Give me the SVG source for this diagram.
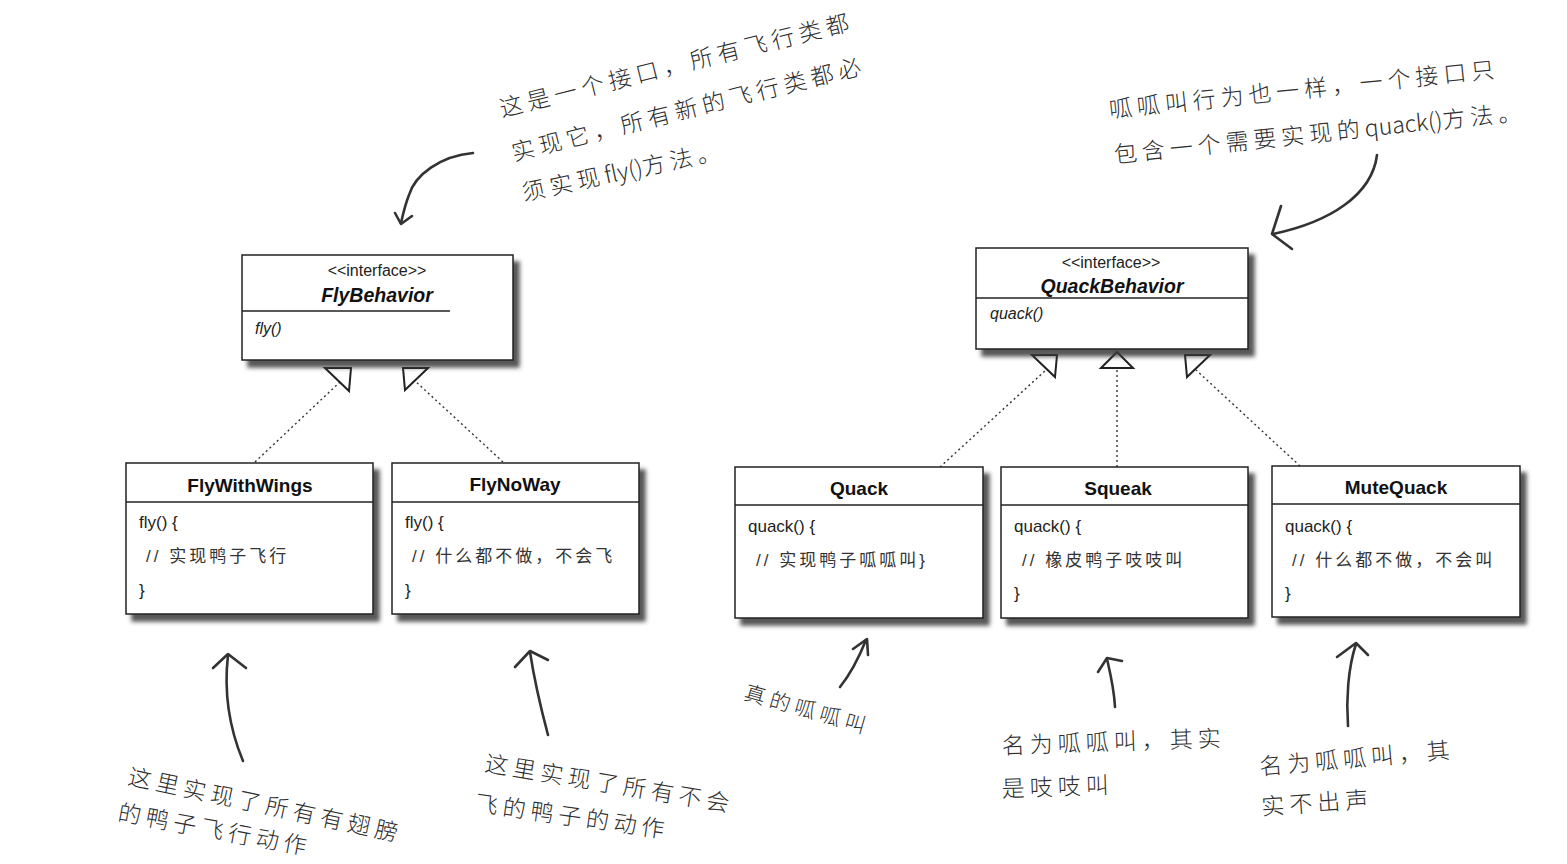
<svg xmlns="http://www.w3.org/2000/svg" width="1567" height="864" viewBox="0 0 1567 864">
  <defs>
    <filter id="shadow" x="-5%" y="-5%" width="115%" height="120%">
      <feDropShadow dx="6" dy="7" stdDeviation="2" flood-color="#3a3a3a" flood-opacity="0.85"/>
    </filter>
  </defs>
  <style>
    .box { fill: #ffffff; stroke: #222; stroke-width: 1.5; filter: url(#shadow); }
    .div { stroke: #222; stroke-width: 1.3; }
    .stereo { font-family: "Liberation Sans", Arial, sans-serif; font-size: 16px; fill: #222; text-anchor: middle; }
    .iname { font-family: "Liberation Sans", Arial, sans-serif; font-size: 19.5px; font-weight: bold; font-style: italic; fill: #111; text-anchor: middle; }
    .imeth { font-family: "Liberation Sans", Arial, sans-serif; font-size: 16px; font-style: italic; fill: #222; }
    .cname { font-family: "Liberation Sans", Arial, sans-serif; font-size: 19px; font-weight: bold; fill: #111; text-anchor: middle; }
    .code { font-family: "Liberation Sans", Arial, sans-serif; font-size: 17px; fill: #222; }
    .cmt { font-family: "Liberation Sans", "Noto Sans CJK SC", sans-serif; font-size: 17px; fill: #333; letter-spacing: 3px; }
    .hand { font-family: "Noto Sans CJK SC", sans-serif; font-size: 23px; font-weight: 300; fill: #2e2e2e; letter-spacing: 5px; }
    .lat { letter-spacing: 0px; }
    .dot { stroke: #333; stroke-width: 1.4; stroke-dasharray: 2 3; fill: none; }
    .tri { fill: #ffffff; stroke: #222; stroke-width: 2; stroke-linejoin: miter; }
    .pen { fill: none; stroke: #333; stroke-width: 2.6; stroke-linecap: round; stroke-linejoin: round; }
  </style>

  <!-- realization connectors -->
  <g id="connectors">
    <line class="dot" x1="255" y1="462" x2="340" y2="382"/>
    <line class="dot" x1="503" y1="462" x2="414" y2="380"/>
    <line class="dot" x1="940" y1="467" x2="1046" y2="370"/>
    <line class="dot" x1="1117" y1="467" x2="1117" y2="370"/>
    <line class="dot" x1="1300" y1="466" x2="1196" y2="370"/>
    <polygon class="tri" points="325,368 351,368 349,391"/>
    <polygon class="tri" points="403,368 428,368 405,390"/>
    <polygon class="tri" points="1032,355 1057,355 1055,377"/>
    <polygon class="tri" points="1117,352 1133,368 1101,368"/>
    <polygon class="tri" points="1185,355 1210,355 1187,377"/>
  </g>

  <!-- interfaces -->
  <g id="FlyBehavior">
    <rect class="box" x="242" y="255" width="271" height="105"/>
    <line class="div" x1="242" y1="311" x2="450" y2="311"/>
    <text class="stereo" x="377" y="276">&lt;&lt;interface&gt;&gt;</text>
    <text class="iname" x="377" y="302">FlyBehavior</text>
    <text class="imeth" x="255" y="334">fly()</text>
  </g>

  <g id="QuackBehavior">
    <rect class="box" x="976" y="248" width="272" height="101"/>
    <line class="div" x1="976" y1="298" x2="1248" y2="298"/>
    <text class="stereo" x="1111" y="268">&lt;&lt;interface&gt;&gt;</text>
    <text class="iname" x="1112" y="293">QuackBehavior</text>
    <text class="imeth" x="990" y="319">quack()</text>
  </g>

  <!-- implementing classes -->
  <g id="FlyWithWings">
    <rect class="box" x="126" y="463" width="247" height="151"/>
    <line class="div" x1="126" y1="502" x2="373" y2="502"/>
    <text class="cname" x="250" y="492">FlyWithWings</text>
    <text class="code" x="139" y="528">fly() {</text>
    <text class="cmt" x="146" y="562">// 实现鸭子飞行</text>
    <text class="code" x="139" y="596">}</text>
  </g>

  <g id="FlyNoWay">
    <rect class="box" x="392" y="463" width="247" height="151"/>
    <line class="div" x1="392" y1="502" x2="639" y2="502"/>
    <text class="cname" x="515" y="491">FlyNoWay</text>
    <text class="code" x="405" y="528">fly() {</text>
    <text class="cmt" x="412" y="562">// 什么都不做，不会飞</text>
    <text class="code" x="405" y="596">}</text>
  </g>

  <g id="Quack">
    <rect class="box" x="735" y="467" width="248" height="151"/>
    <line class="div" x1="735" y1="505" x2="983" y2="505"/>
    <text class="cname" x="859" y="495">Quack</text>
    <text class="code" x="748" y="532">quack() {</text>
    <text class="cmt" x="756" y="566">// 实现鸭子呱呱叫}</text>
  </g>

  <g id="Squeak">
    <rect class="box" x="1001" y="467" width="247" height="151"/>
    <line class="div" x1="1001" y1="505" x2="1248" y2="505"/>
    <text class="cname" x="1118" y="495">Squeak</text>
    <text class="code" x="1014" y="532">quack() {</text>
    <text class="cmt" x="1022" y="566">// 橡皮鸭子吱吱叫</text>
    <text class="code" x="1014" y="599">}</text>
  </g>

  <g id="MuteQuack">
    <rect class="box" x="1272" y="466" width="248" height="151"/>
    <line class="div" x1="1272" y1="504" x2="1520" y2="504"/>
    <text class="cname" x="1396" y="494">MuteQuack</text>
    <text class="code" x="1285" y="532">quack() {</text>
    <text class="cmt" x="1292" y="566">// 什么都不做，不会叫</text>
    <text class="code" x="1285" y="599">}</text>
  </g>

  <!-- handwritten notes -->
  <g id="note-fly-interface">
    <text class="hand" transform="rotate(-14 502 117)" x="502" y="117">这是一个接口，所有飞行类都</text>
    <text class="hand" transform="rotate(-14 514 161)" x="514" y="161">实现它，所有新的飞行类都必</text>
    <text class="hand" transform="rotate(-12 524 201)" x="524" y="201">须实现<tspan class="lat">fly()</tspan>方法。</text>
    <path class="pen" d="M473,153 C440,156 415,175 409,195 C405,205 403,214 401,223"/>
    <path class="pen" d="M395,213 L401,224 L412,216"/>
  </g>

  <g id="note-quack-interface">
    <text class="hand" transform="rotate(-6 1110 118)" x="1110" y="118">呱呱叫行为也一样，一个接口只</text>
    <text class="hand" transform="rotate(-6 1115 163)" x="1115" y="163">包含一个需要实现的<tspan class="lat">quack()</tspan>方法。</text>
    <path class="pen" d="M1377,155 C1372,195 1330,222 1273,234"/>
    <path class="pen" d="M1281,206 L1272,234 L1292,249"/>
  </g>

  <g id="note-flywithwings">
    <text class="hand" transform="rotate(12 127 784)" x="127" y="784">这里实现了所有有翅膀</text>
    <text class="hand" transform="rotate(10.5 117 820)" x="117" y="820">的鸭子飞行动作</text>
    <path class="pen" d="M243,761 C228,725 224,690 228,655"/>
    <path class="pen" d="M213,668 L228,654 L246,668"/>
  </g>

  <g id="note-flynoway">
    <text class="hand" transform="rotate(9.5 484 771)" x="484" y="771">这里实现了所有不会</text>
    <text class="hand" transform="rotate(8 474 811)" x="474" y="811">飞的鸭子的动作</text>
    <path class="pen" d="M548,735 C540,705 534,678 530,652"/>
    <path class="pen" d="M515,667 L530,651 L548,660"/>
  </g>

  <g id="note-quack">
    <text class="hand" style="font-size:21px" transform="rotate(16 743 699)" x="743" y="699">真的呱呱叫</text>
    <path class="pen" d="M840,687 C852,672 860,655 866,640"/>
    <path class="pen" d="M853,649 L867,639 L868,655"/>
  </g>

  <g id="note-squeak">
    <text class="hand" transform="rotate(-2 1002 754)" x="1002" y="754">名为呱呱叫，其实</text>
    <text class="hand" transform="rotate(-2 1002 797)" x="1002" y="797">是吱吱叫</text>
    <path class="pen" d="M1115,707 C1114,688 1110,672 1107,659"/>
    <path class="pen" d="M1098,672 L1107,658 L1122,661"/>
  </g>

  <g id="note-mutequack">
    <text class="hand" transform="rotate(-5 1260 775)" x="1260" y="775">名为呱呱叫，其</text>
    <text class="hand" transform="rotate(-4 1262 815)" x="1262" y="815">实不出声</text>
    <path class="pen" d="M1348,726 C1346,700 1348,668 1356,644"/>
    <path class="pen" d="M1337,657 L1356,643 L1368,655"/>
  </g>
</svg>
